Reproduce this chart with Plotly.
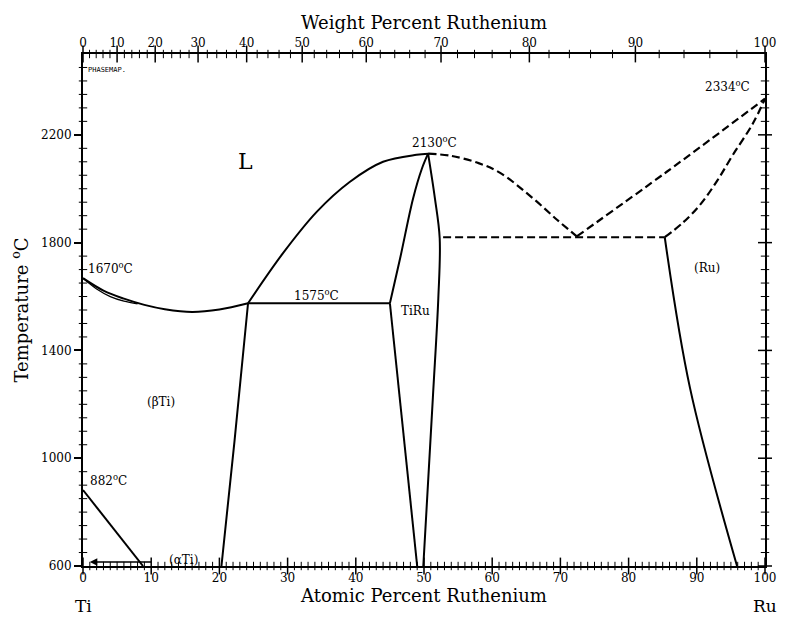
import plotly.graph_objects as go
import numpy as np

FONT = "DejaVu Serif"

# ---- data (atomic % Ru, temperature °C) ----
liq_left_x = [0, 3, 6, 9, 12, 16, 20, 24.2]
liq_left_t = [1668, 1622, 1592, 1569, 1553, 1543, 1552, 1575]
sol_left_x = [0, 2, 4, 6, 8]
sol_left_t = [1668, 1628, 1600, 1583, 1573]

liq_mid_x = [24.2, 29.3, 34.3, 39.1, 44.0, 48.9, 50.6]
liq_mid_t = [1575, 1760, 1915, 2025, 2100, 2126, 2130]

eut_x = [24.2, 45.0]
eut_t = [1575, 1575]

beta_solvus_x = [24.2, 22.2, 20.3]
beta_solvus_t = [1575, 1060, 600]

tiru_left_up_x = [50.6, 49.7, 48.4, 46.5, 45.0]
tiru_left_up_t = [2130, 2075, 1964, 1742, 1575]
tiru_left_lo_x = [45.0, 49.0]
tiru_left_lo_t = [1575, 600]
tiru_right_x = [50.6, 51.6, 52.3, 52.1, 51.3, 49.9]
tiru_right_t = [2130, 1964, 1816, 1594, 1225, 600]

alpha_x = [0, 8.8]
alpha_t = [882, 600]

liq_right_x = [50.6, 54, 58, 61.1, 66.0, 69.5, 72.4]
liq_right_t = [2130, 2122, 2095, 2060, 1964, 1885, 1823]
liq_ru_x = [72.4, 85.6, 100]
liq_ru_t = [1823, 2063, 2334]
sol_ru_x = [85.3, 88, 90.5, 93, 95.3, 98.2, 100]
sol_ru_t = [1820, 1875, 1941, 2030, 2126, 2241, 2334]
per_x = [52.8, 85.3]
per_t = [1820, 1820]

ru_solvus_x = [85.3, 89.0, 95.9]
ru_solvus_t = [1820, 1261, 600]

# ---- axis scales ----
T_MIN, T_MAX = 600, 2500
at_major = list(range(0, 101, 10))
at_minor = [a for a in range(0, 101) if a % 10 != 0]
wt_major = [0, 10, 20, 30, 40, 50, 60, 70, 80, 90, 100]
wt_minor = [w for w in range(0, 101, 2) if w % 10 != 0]
t_major = [600, 1000, 1400, 1800, 2200]
t_minor = [t for t in range(650, 2500, 50) if (t - 600) % 400 != 0]

M_TI, M_RU = 47.867, 101.07


def wt_to_at(w):
    w = np.asarray(w, dtype=float)
    a = w / M_RU
    b = (100 - w) / M_TI
    return list(100 * a / (a + b))


fig = go.Figure()

solid = dict(color="black", width=2)
dashed = dict(color="black", width=2.2, dash="8px,4px")

for xs, ts, ln, shape in [
    (liq_left_x, liq_left_t, solid, "spline"),
    (sol_left_x, sol_left_t, dict(color="black", width=1.3), "spline"),
    (liq_mid_x, liq_mid_t, solid, "spline"),
    (eut_x, eut_t, solid, "linear"),
    (beta_solvus_x, beta_solvus_t, solid, "spline"),
    (tiru_left_up_x, tiru_left_up_t, solid, "spline"),
    (tiru_left_lo_x, tiru_left_lo_t, solid, "linear"),
    (tiru_right_x, tiru_right_t, solid, "spline"),
    (alpha_x, alpha_t, solid, "linear"),
    (liq_right_x, liq_right_t, dashed, "spline"),
    (liq_ru_x, liq_ru_t, dashed, "spline"),
    (sol_ru_x, sol_ru_t, dashed, "spline"),
    (per_x, per_t, dashed, "linear"),
    (ru_solvus_x, ru_solvus_t, solid, "spline"),
]:
    fig.add_trace(go.Scatter(x=xs, y=ts, mode="lines", line=dict(ln, shape=shape),
                             showlegend=False, hoverinfo="skip"))


def tick_marks(xs, ys, symbol, size, width):
    fig.add_trace(go.Scatter(
        x=xs, y=ys, mode="markers", cliponaxis=False, showlegend=False,
        hoverinfo="skip",
        marker=dict(symbol=symbol, size=size, color="black",
                    line=dict(width=width, color="black"))))


# tick marks along the frame, placed through the axes' own scales
tick_marks(at_minor, [T_MIN] * len(at_minor), "line-ns", 6, 1)
tick_marks(at_major, [T_MIN] * len(at_major), "line-ns", 12, 1.5)
tick_marks(wt_to_at(wt_minor), [T_MAX] * len(wt_minor), "line-ns", 6, 1)
tick_marks(wt_to_at(wt_major), [T_MAX] * len(wt_major), "line-ns", 12, 1.5)
tick_marks([0] * len(t_minor), t_minor, "line-ew", 6, 1)
tick_marks([100] * len(t_minor), t_minor, "line-ew", 6, 1)
tick_marks([100] * len(t_major), t_major, "line-ew", 10, 1.5)

# invisible trace to activate the top (weight %) axis
fig.add_trace(go.Scatter(x=[50], y=[1500], xaxis="x2", mode="markers",
                         marker=dict(size=1, opacity=0),
                         showlegend=False, hoverinfo="skip"))

tf = dict(family=FONT, color="black")
ann = [
    dict(x=23.8, y=2100, text="L", font=dict(size=22, **tf)),
    dict(x=51.5, y=2175, text="2130<sup>o</sup>C", font=dict(size=12, **tf)),
    dict(x=94.5, y=2380, text="2334<sup>o</sup>C", font=dict(size=12, **tf)),
    dict(x=4.1, y=1705, text="1670<sup>o</sup>C", font=dict(size=12, **tf)),
    dict(x=34.2, y=1605, text="1575<sup>o</sup>C", font=dict(size=12, **tf)),
    dict(x=48.8, y=1548, text="TiRu", font=dict(size=12, **tf)),
    dict(x=11.5, y=1210, text="(βTi)", font=dict(size=12, **tf)),
    dict(x=91.5, y=1705, text="(Ru)", font=dict(size=12, **tf)),
    dict(x=3.8, y=918, text="882<sup>o</sup>C", font=dict(size=12, **tf)),
    dict(x=14.8, y=624, text="(αTi)", font=dict(size=12, **tf)),
]
annotations = [dict(a, xref="x", yref="y", showarrow=False) for a in ann]
annotations.append(dict(x=1.0, y=615, ax=10.2, ay=615, xref="x", yref="y",
                        axref="x", ayref="y", showarrow=True, arrowhead=2,
                        arrowsize=1, arrowwidth=1.5, arrowcolor="black", text=""))
annotations.append(dict(x=0.4, y=2440, xref="x", yref="y", text="PHASEMAP.",
                        showarrow=False, xanchor="left",
                        font=dict(size=7, family="DejaVu Sans Mono", color="black")))
annotations.append(dict(x=0, y=-0.055, xref="x", yref="paper", text="Ti",
                        showarrow=False, yanchor="top",
                        font=dict(size=17, **tf)))
annotations.append(dict(x=100, y=-0.055, xref="x", yref="paper", text="Ru",
                        showarrow=False, yanchor="top",
                        font=dict(size=17, **tf)))

fig.update_layout(
    width=787, height=617,
    margin=dict(l=83, r=22, t=54, b=51),
    paper_bgcolor="white", plot_bgcolor="white",
    font=dict(family=FONT, color="black", size=12),
    annotations=annotations,
    xaxis=dict(range=[0, 100], tickmode="array", tickvals=at_major,
               ticks="", showline=True, linecolor="black", linewidth=2,
               showgrid=False, zeroline=False,
               tickfont=dict(size=12, **tf),
               title=dict(text="Atomic Percent Ruthenium",
                          font=dict(size=18, **tf), standoff=2)),
    xaxis2=dict(range=[0, 100], overlaying="x", side="top",
                tickmode="array", tickvals=wt_to_at(wt_major),
                ticktext=[str(w) for w in wt_major],
                ticks="", showline=True, linecolor="black", linewidth=2,
                showgrid=False, zeroline=False,
                tickfont=dict(size=12, **tf),
                title=dict(text="Weight Percent Ruthenium",
                           font=dict(size=18, **tf), standoff=2)),
    yaxis=dict(range=[T_MIN, T_MAX], tickmode="array", tickvals=t_major,
               ticks="outside", ticklen=7, tickwidth=1.5, tickcolor="black",
               showline=True, linecolor="black", linewidth=2, mirror=True,
               showgrid=False, zeroline=False,
               tickfont=dict(size=12, **tf),
               title=dict(text="Temperature <sup>o</sup>C",
                          font=dict(size=18, **tf), standoff=8)),
)

fig.write_html("out.html")
